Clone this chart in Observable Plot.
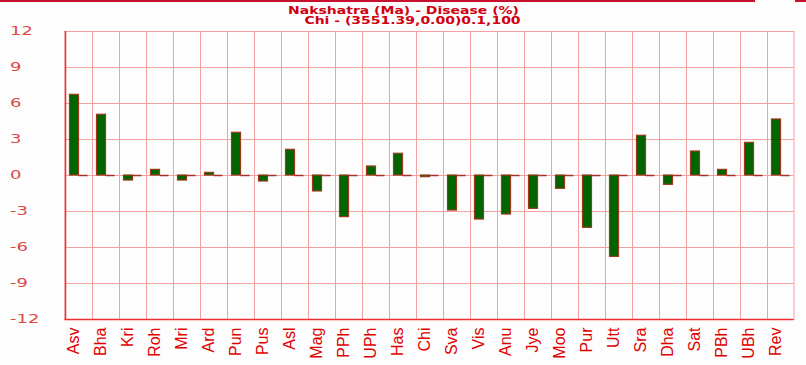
<!DOCTYPE html>
<html>
<head>
<meta charset="utf-8">
<script src="https://cdn.jsdelivr.net/npm/d3@7"></script>
<script src="https://cdn.jsdelivr.net/npm/@observablehq/plot@0.6"></script>
<style>
  html, body { margin: 0; padding: 0; background: #fdfdfd; }
  #wrap { position: relative; width: 806px; height: 365px; overflow: hidden; }
  #topline1 { position: absolute; left: 0; top: 0; width: 755px; height: 2px; background: #c8102e; }
  #topline2 { position: absolute; left: 795px; top: 0; width: 11px; height: 2px; background: #c8102e; }
</style>
</head>
<body>
<div id="wrap"><div id="topline1"></div><div id="topline2"></div></div>
<script>
const categories = ["Asv","Bha","Kri","Roh","Mri","Ard","Pun","Pus","Asl","Mag","PPh","UPh","Has","Chi","Sva","Vis","Anu","Jye","Moo","Pur","Utt","Sra","Dha","Sat","PBh","UBh","Rev"];
const values = [6.72,5.06,-0.42,0.47,-0.42,0.22,3.56,-0.5,2.14,-1.33,-3.47,0.75,1.81,-0.14,-2.92,-3.67,-3.25,-2.78,-1.11,-4.36,-6.78,3.31,-0.78,2.0,0.47,2.72,4.67];
const secondValues = categories.map(() => 0);
const yTicks = [12,9,6,3,0,-3,-6,-9,-12];
const titleLines = ["Nakshatra (Ma) - Disease (%)", "Chi - (3551.39,0.00)0.1,100"];

const data = categories.map((c, i) => ({cat: c, v: values[i], z: secondValues[i]}));

const gridColor = "#f2a0a0";
const axisRed = "#f03030";

const chart = Plot.plot({
  width: 806,
  height: 365,
  marginLeft: 64.5,
  marginRight: 12.5,
  marginTop: 31,
  marginBottom: 46,
  style: {background: "transparent", overflow: "visible"},
  x: {type: "band", domain: categories, padding: 0, axis: null},
  y: {domain: [-12, 12], axis: null},
  marks: [
    Plot.ruleY(yTicks, {stroke: gridColor, strokeWidth: 1}),
    Plot.ruleX(categories, {x: d => d, dx: -13.5, stroke: gridColor, strokeWidth: 1}),
    Plot.frame({stroke: gridColor, strokeWidth: 1}),
    Plot.barY(data, {x: "cat", y: "v", fill: "#006400", stroke: "#9a3a1a", strokeWidth: 1.2, insetLeft: 4.5, insetRight: 13.5}),
    Plot.tickY(data, {x: "cat", y: "z", stroke: "#a8302a", strokeWidth: 1.5, insetLeft: 13.5, insetRight: 4.5}),
    Plot.ruleX([categories[0]], {x: d => d, dx: -13.5, stroke: axisRed, strokeWidth: 1.5}),
    Plot.ruleY([-12], {stroke: axisRed, strokeWidth: 1.5}),
    Plot.text(categories, {x: d => d, text: d => d, frameAnchor: "bottom", rotate: -90, textAnchor: "end", dy: 8, fontSize: 16, fill: "#e00000", fontFamily: "Liberation Sans, Arial, sans-serif", className: "xl"}),
    Plot.text(yTicks, {y: d => d, text: d => String(d), frameAnchor: "left", textAnchor: "start", dx: -55, fontSize: 12, fill: "#dc4848", fontFamily: "DejaVu Sans, sans-serif", className: "ytick"}),
    Plot.text([titleLines[0]], {frameAnchor: "top", dy: -25, dx: -26, text: d => d, fontSize: 10, fontWeight: "bold", fill: "#d00010", fontFamily: "DejaVu Sans, sans-serif", className: "ttl1"}),
    Plot.text([titleLines[1]], {frameAnchor: "top", dy: -15, dx: -17, text: d => d, fontSize: 10, fontWeight: "bold", fill: "#d00010", fontFamily: "DejaVu Sans, sans-serif", className: "ttl2"})
  ]
});
document.getElementById("wrap").appendChild(chart);

// Rewrite "translate(tx,ty) [rotate(r)]" as one matrix, with an optional horizontal stretch
// (the reference renders its tick labels and title in a wide font).
function toMatrix(sel, sx) {
  d3.select(chart).selectAll(sel).each(function() {
    const t = d3.select(this);
    const tr = t.attr("transform") || "";
    const m = tr.match(/translate\(\s*([-\d.e]+)[ ,]+([-\d.e]+)\s*\)/);
    const tx = m ? +m[1] : 0, ty = m ? +m[2] : 0;
    const r = tr.match(/rotate\(\s*([-\d.e]+)/);
    const ang = r ? (+r[1]) * Math.PI / 180 : 0;
    const c = Math.cos(ang), s = Math.sin(ang);
    const a = +(c * sx).toFixed(6), b = +(s * sx).toFixed(6), cc = +(-s).toFixed(6), d = +c.toFixed(6);
    t.attr("transform", `matrix(${a},${b},${cc},${d},${tx},${ty})`);
  });
}
toMatrix(".xl text", 1);
toMatrix(".ytick text", 1.5);
toMatrix(".ttl1 text", 1.4);
toMatrix(".ttl2 text", 1.4);
</script>
</body>
</html>
